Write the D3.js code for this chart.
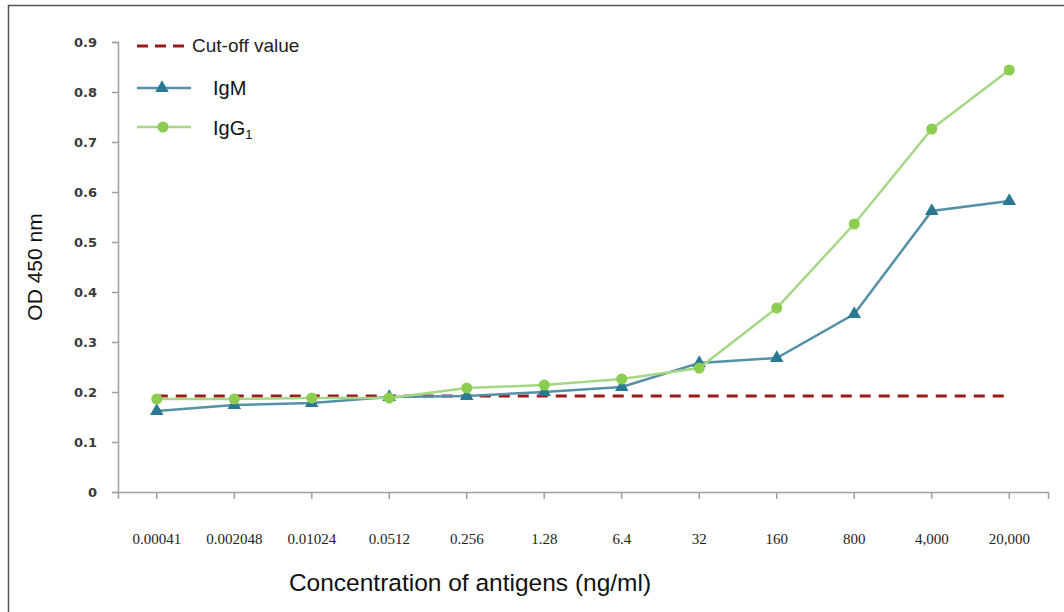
<!DOCTYPE html>
<html>
<head>
<meta charset="utf-8">
<script src="https://cdn.jsdelivr.net/npm/d3@7"></script>
<style>
  html, body { margin: 0; padding: 0; background: #fff; }
  svg { display: block; }
</style>
</head>
<body>
<svg id="chart" width="1064" height="612"></svg>
<script>
// Antigen concentrations (ng/ml) on the x axis
const categories = ["0.00041", "0.002048", "0.01024", "0.0512", "0.256", "1.28",
                    "6.4", "32", "160", "800", "4,000", "20,000"];
// OD 450 nm readings
const igmValues  = [0.162, 0.174, 0.178, 0.190, 0.192, 0.200, 0.210, 0.258, 0.268, 0.356, 0.562, 0.582];
const igg1Values = [0.186, 0.186, 0.188, 0.188, 0.208, 0.214, 0.226, 0.248, 0.368, 0.536, 0.726, 0.844];
const cutoffValue = 0.192;
const yTicks = [0, 0.1, 0.2, 0.3, 0.4, 0.5, 0.6, 0.7, 0.8, 0.9];

const svg = d3.select("#chart");

// outer frame
svg.append("rect")
  .attr("x", 8.5).attr("y", 5.5)
  .attr("width", 1070).attr("height", 620)
  .attr("fill", "none").attr("stroke", "#555").attr("stroke-width", 1.5);

const plotLeft = 118, plotRight = 1048, plotTop = 42, plotBottom = 492;

const x = d3.scaleBand().domain(categories).range([plotLeft, plotRight]);
const y = d3.scaleLinear().domain([0, 0.9]).range([plotBottom, plotTop]);
const cx = d => x(d) + x.bandwidth() / 2;

const axisColor = "#a0a0a0";

// y axis
const yAxis = svg.append("g")
  .attr("transform", `translate(${plotLeft},0)`)
  .call(d3.axisLeft(y).tickValues(yTicks).tickSize(6).tickPadding(15)
        .tickFormat(d => d === 0 ? "0" : d3.format(".1f")(d)));
yAxis.select(".domain").attr("stroke", axisColor).attr("stroke-width", 1.5);
yAxis.selectAll(".tick line").attr("stroke", axisColor).attr("stroke-width", 1.5);
yAxis.selectAll(".tick text")
  .attr("font-family", "DejaVu Sans, sans-serif")
  .attr("font-size", 13).attr("font-weight", "bold").attr("fill", "#3a3a3a");

// x axis
const xAxis = svg.append("g")
  .attr("transform", `translate(0,${plotBottom})`)
  .call(d3.axisBottom(x).tickSize(7).tickSizeOuter(7).tickPadding(34));
xAxis.select(".domain").attr("stroke", axisColor).attr("stroke-width", 1.5);
xAxis.selectAll(".tick line").attr("stroke", axisColor).attr("stroke-width", 1.5);
xAxis.selectAll(".tick text")
  .attr("font-family", "Liberation Serif, serif")
  .attr("font-size", 15).attr("fill", "#222");

// cut-off line
svg.append("line")
  .attr("x1", cx(categories[0])).attr("x2", cx(categories[categories.length - 1]))
  .attr("y1", y(cutoffValue)).attr("y2", y(cutoffValue))
  .attr("stroke", "#9b1b1b").attr("stroke-width", 3)
  .attr("stroke-dasharray", "11,8");

const line = d3.line().x((d, i) => cx(categories[i])).y(d => y(d));

const igmColor = "#5591a6", igmMarker = "#2a7892";
const iggColor = "#a6d786", iggMarker = "#8ccc4e";

// IgM series
svg.append("path").datum(igmValues)
  .attr("d", line).attr("fill", "none")
  .attr("stroke", igmColor).attr("stroke-width", 2.5);
const tri = d3.symbol().type(d3.symbolTriangle).size(80);
svg.selectAll(".igm").data(igmValues).enter().append("path")
  .attr("d", tri)
  .attr("transform", (d, i) => `translate(${cx(categories[i])},${y(d)})`)
  .attr("fill", igmMarker);

// IgG1 series
svg.append("path").datum(igg1Values)
  .attr("d", line).attr("fill", "none")
  .attr("stroke", iggColor).attr("stroke-width", 2.5);
svg.selectAll(".igg").data(igg1Values).enter().append("circle")
  .attr("cx", (d, i) => cx(categories[i])).attr("cy", d => y(d))
  .attr("r", 5.5).attr("fill", iggMarker);

// legend
const lg = svg.append("g");
lg.append("line").attr("x1", 137).attr("x2", 191).attr("y1", 46).attr("y2", 46)
  .attr("stroke", "#9b1b1b").attr("stroke-width", 3).attr("stroke-dasharray", "11,7");
lg.append("text").attr("x", 192).attr("y", 52)
  .attr("font-family", "Liberation Sans, Arial, sans-serif").attr("font-size", 19)
  .attr("fill", "#222").text("Cut-off value");

lg.append("line").attr("x1", 137).attr("x2", 191).attr("y1", 88).attr("y2", 88)
  .attr("stroke", igmColor).attr("stroke-width", 2.5);
lg.append("path").attr("d", tri).attr("transform", "translate(162,88)").attr("fill", igmMarker);
lg.append("text").attr("x", 213).attr("y", 95)
  .attr("font-family", "Liberation Sans, Arial, sans-serif").attr("font-size", 20)
  .attr("fill", "#111").text("IgM");

lg.append("line").attr("x1", 137).attr("x2", 191).attr("y1", 127).attr("y2", 127)
  .attr("stroke", iggColor).attr("stroke-width", 2.5);
lg.append("circle").attr("cx", 163).attr("cy", 127).attr("r", 5.5).attr("fill", iggMarker);
const gt = lg.append("text").attr("x", 213).attr("y", 135)
  .attr("font-family", "Liberation Sans, Arial, sans-serif").attr("font-size", 20)
  .attr("fill", "#111");
gt.append("tspan").text("IgG");
gt.append("tspan").attr("font-size", 13).attr("dy", 4).text("1");

// axis titles
svg.append("text")
  .attr("x", 470).attr("y", 591).attr("text-anchor", "middle")
  .attr("font-family", "Liberation Sans, Arial, sans-serif").attr("font-size", 24.5)
  .attr("fill", "#111").text("Concentration of antigens (ng/ml)");

svg.append("text")
  .attr("transform", "translate(42,267) rotate(-90)")
  .attr("text-anchor", "middle")
  .attr("font-family", "Liberation Sans, Arial, sans-serif").attr("font-size", 21)
  .attr("fill", "#111").text("OD 450 nm");
</script>
</body>
</html>
